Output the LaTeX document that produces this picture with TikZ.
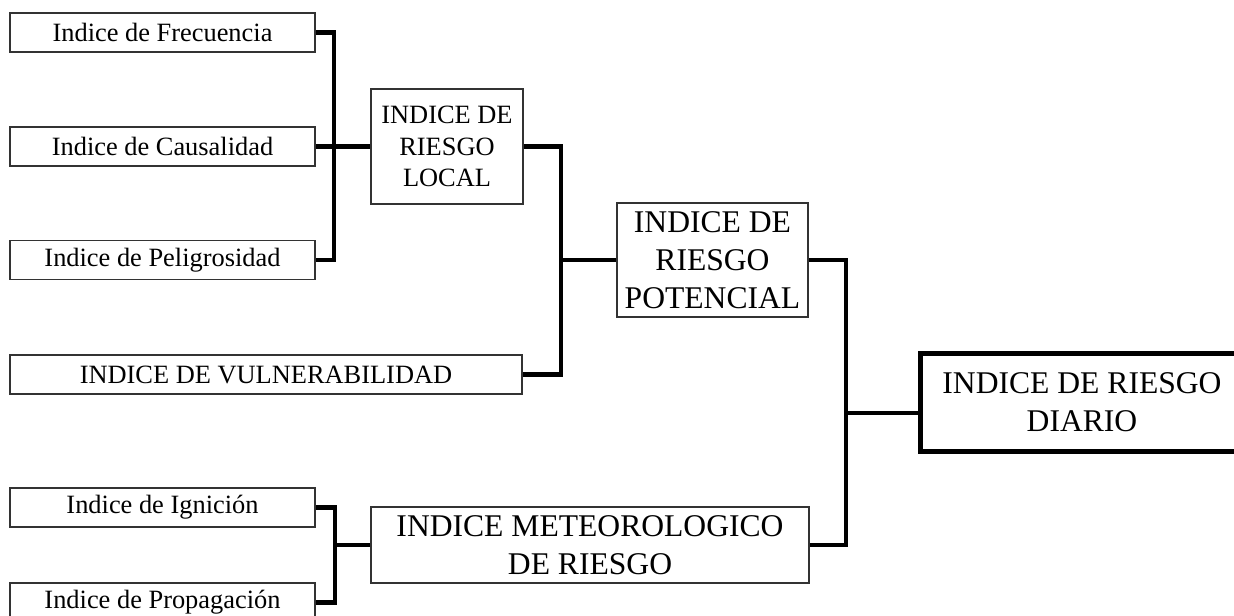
\documentclass[tikz,border=0pt]{standalone}
\usepackage{fontspec}
\setmainfont{Liberation Serif}
\usepackage{tikz}
\usetikzlibrary{positioning, calc}
\tikzstyle{link} = [line width=2.2pt, black, line join=miter]

\begin{document}
\begin{tikzpicture}[
	x=0.5pt, y=-0.5pt,
	every node/.style={font=\fontsize{13.2}{15.8}\selectfont},
	index/.style={rectangle, draw=black!80, line width=0.9pt, minimum width=152.5pt, minimum height=19.5pt, inner sep=0pt, align=center},
	bigindex/.style={rectangle, draw=black!80, line width=0.9pt, inner sep=0pt, align=center, font=\fontsize{15.8}{19}\selectfont}
]
\useasboundingbox (0,0) rectangle (1234,615);

% Sub-indices on the left
\node[index] (frec) at (162.5,32.5) {Indice de Frecuencia};
\node[index] (caus) at (162.5,146.5) {Indice de Causalidad};
\node[index] (peli) at (162.5,260) {Indice de Peligrosidad};
\node[index, minimum width=256pt] (vuln) at (266,374.5) {INDICE DE VULNERABILIDAD};
\node[index] (igni) at (162.5,507.5) {Indice de Ignición};
\node[index] (prop) at (162.5,602.5) {Indice de Propagación};

% Combined indices
\node[index, minimum width=76pt, minimum height=57.5pt] (local) at (447,146.5) {INDICE DE\\ RIESGO\\ LOCAL};
\node[bigindex, minimum width=95.5pt, minimum height=57pt] (poten) at (712.5,260) {INDICE DE\\ RIESGO\\ POTENCIAL};
\node[bigindex, minimum width=219pt, minimum height=38pt] (meteo) at (590,545) {INDICE METEOROLOGICO\\ DE RIESGO};
\node[bigindex, line width=2.5pt, draw=black, minimum width=162pt, minimum height=49pt] (diario) at (1082,402) {INDICE DE RIESGO\\ DIARIO};

% Brackets
\coordinate (busL) at ($(frec.east)+(18,0)$);
\draw[link] (frec.east) -- (busL) |- (peli.east);
\draw[link] (caus.east) -- (local.west);

\coordinate (busV) at ($(local.east)+(37,0)$);
\draw[link] (local.east) -- (busV) |- (vuln.east);
\draw[link] (busV |- poten.west) -- (poten.west);

\coordinate (busI) at ($(igni.east)+(19,0)$);
\draw[link] (igni.east) -- (busI) |- (prop.east);
\draw[link] (busI |- meteo.west) -- (meteo.west);

\coordinate (busP) at ($(poten.east)+(37,0)$);
\coordinate (diarioIn) at ($(diario.west)+(0,11)$);
\draw[link] (poten.east) -- (busP) |- (meteo.east);
\draw[link] (busP |- diarioIn) -- (diarioIn);

\end{tikzpicture}
\end{document}
